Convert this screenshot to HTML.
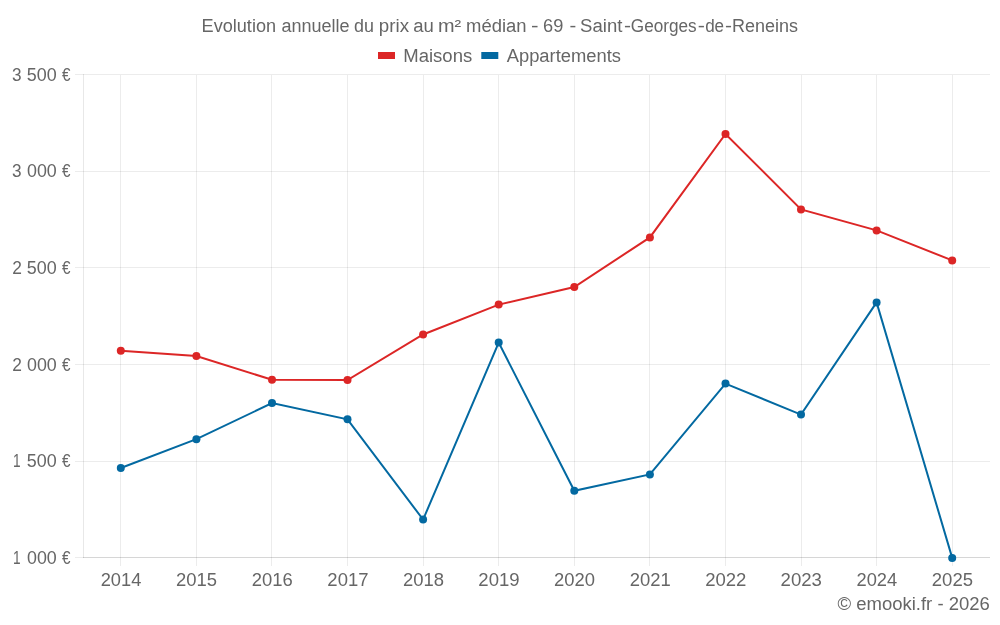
<!DOCTYPE html>
<html lang="fr"><head><meta charset="utf-8"><title>Evolution annuelle du prix au m² médian</title>
<style>html,body{margin:0;padding:0;background:#fff;}body{width:1000px;height:625px;overflow:hidden;}svg{display:block;}text{font-family:"Liberation Sans",sans-serif;font-size:18px;fill:#666666;}</style>
</head><body>
<svg width="1000" height="625" viewBox="0 0 1000 625">
<rect width="1000" height="625" fill="#ffffff"/>
<g shape-rendering="crispEdges" stroke="#000000" stroke-opacity="0.075" stroke-width="1">
<line x1="75" x2="990" y1="74.5" y2="74.5"/>
<line x1="75" x2="990" y1="171.5" y2="171.5"/>
<line x1="75" x2="990" y1="267.5" y2="267.5"/>
<line x1="75" x2="990" y1="364.5" y2="364.5"/>
<line x1="75" x2="990" y1="461.5" y2="461.5"/>
<line x1="75" x2="990" y1="557.5" y2="557.5"/>
<line x1="120.5" x2="120.5" y1="75" y2="566"/>
<line x1="196.5" x2="196.5" y1="75" y2="566"/>
<line x1="271.5" x2="271.5" y1="75" y2="566"/>
<line x1="347.5" x2="347.5" y1="75" y2="566"/>
<line x1="423.5" x2="423.5" y1="75" y2="566"/>
<line x1="498.5" x2="498.5" y1="75" y2="566"/>
<line x1="574.5" x2="574.5" y1="75" y2="566"/>
<line x1="649.5" x2="649.5" y1="75" y2="566"/>
<line x1="725.5" x2="725.5" y1="75" y2="566"/>
<line x1="801.5" x2="801.5" y1="75" y2="566"/>
<line x1="876.5" x2="876.5" y1="75" y2="566"/>
<line x1="952.5" x2="952.5" y1="75" y2="566"/>
</g>
<g shape-rendering="crispEdges" stroke="#000000" stroke-opacity="0.09" stroke-width="1">
<line x1="83.5" x2="83.5" y1="74" y2="558"/>
<line x1="83" x2="990" y1="557.5" y2="557.5"/>
</g>
<polyline points="120.8,468.0 196.4,439.2 272.0,403.1 347.5,419.3 423.1,519.6 498.7,342.6 574.3,490.8 649.9,474.4 725.5,383.6 801.0,414.6 876.6,302.4 952.2,557.9" fill="none" stroke="#0369a1" stroke-width="2" stroke-linejoin="miter"/>
<circle cx="120.8" cy="468.0" r="4" fill="#0369a1"/>
<circle cx="196.4" cy="439.2" r="4" fill="#0369a1"/>
<circle cx="272.0" cy="403.1" r="4" fill="#0369a1"/>
<circle cx="347.5" cy="419.3" r="4" fill="#0369a1"/>
<circle cx="423.1" cy="519.6" r="4" fill="#0369a1"/>
<circle cx="498.7" cy="342.6" r="4" fill="#0369a1"/>
<circle cx="574.3" cy="490.8" r="4" fill="#0369a1"/>
<circle cx="649.9" cy="474.4" r="4" fill="#0369a1"/>
<circle cx="725.5" cy="383.6" r="4" fill="#0369a1"/>
<circle cx="801.0" cy="414.6" r="4" fill="#0369a1"/>
<circle cx="876.6" cy="302.4" r="4" fill="#0369a1"/>
<circle cx="952.2" cy="557.9" r="4" fill="#0369a1"/>
<polyline points="120.8,350.8 196.4,356.0 272.0,379.8 347.5,380.0 423.1,334.5 498.7,304.6 574.3,287.0 649.9,237.4 725.5,134.0 801.0,209.4 876.6,230.4 952.2,260.4" fill="none" stroke="#dc2626" stroke-width="2" stroke-linejoin="miter"/>
<circle cx="120.8" cy="350.8" r="4" fill="#dc2626"/>
<circle cx="196.4" cy="356.0" r="4" fill="#dc2626"/>
<circle cx="272.0" cy="379.8" r="4" fill="#dc2626"/>
<circle cx="347.5" cy="380.0" r="4" fill="#dc2626"/>
<circle cx="423.1" cy="334.5" r="4" fill="#dc2626"/>
<circle cx="498.7" cy="304.6" r="4" fill="#dc2626"/>
<circle cx="574.3" cy="287.0" r="4" fill="#dc2626"/>
<circle cx="649.9" cy="237.4" r="4" fill="#dc2626"/>
<circle cx="725.5" cy="134.0" r="4" fill="#dc2626"/>
<circle cx="801.0" cy="209.4" r="4" fill="#dc2626"/>
<circle cx="876.6" cy="230.4" r="4" fill="#dc2626"/>
<circle cx="952.2" cy="260.4" r="4" fill="#dc2626"/>
<rect x="378" y="52" width="17" height="7" fill="#dc2626"/>
<rect x="481.3" y="52" width="17" height="7" fill="#0369a1"/>
<g style="will-change:opacity;filter:grayscale(1)">
<text y="31.6"><tspan x="201.56" textLength="74.54" lengthAdjust="spacingAndGlyphs">Evolution</tspan> <tspan x="281.38" textLength="68.06" lengthAdjust="spacingAndGlyphs">annuelle</tspan> <tspan x="353.99" textLength="19.91" lengthAdjust="spacingAndGlyphs">du</tspan> <tspan x="378.89" textLength="30.20" lengthAdjust="spacingAndGlyphs">prix</tspan> <tspan x="413.19" textLength="20.60" lengthAdjust="spacingAndGlyphs">au</tspan> <tspan x="437.90" textLength="23.19" lengthAdjust="spacingAndGlyphs">m²</tspan> <tspan x="466.13" textLength="60.47" lengthAdjust="spacingAndGlyphs">médian</tspan> <tspan x="531.11" textLength="7.54" lengthAdjust="spacingAndGlyphs">-</tspan> <tspan x="543.06" textLength="20.28" lengthAdjust="spacingAndGlyphs">69</tspan> <tspan x="569.56" textLength="6.77" lengthAdjust="spacingAndGlyphs">-</tspan> <tspan x="580.10" textLength="42.27" lengthAdjust="spacingAndGlyphs">Saint</tspan><tspan x="624.04" textLength="7.01" lengthAdjust="spacingAndGlyphs">-</tspan><tspan x="630.82" textLength="65.87" lengthAdjust="spacingAndGlyphs">Georges</tspan><tspan x="697.70" textLength="7.16" lengthAdjust="spacingAndGlyphs">-</tspan><tspan x="705.13" textLength="18.97" lengthAdjust="spacingAndGlyphs">de</tspan><tspan x="724.98" textLength="7.00" lengthAdjust="spacingAndGlyphs">-</tspan><tspan x="731.92" textLength="66.01" lengthAdjust="spacingAndGlyphs">Reneins</tspan>
</text>
<text y="61.5"><tspan x="403.24" textLength="68.96" lengthAdjust="spacingAndGlyphs">Maisons</tspan>
</text>
<text y="61.5"><tspan x="506.69" textLength="114.37" lengthAdjust="spacingAndGlyphs">Appartements</tspan>
</text>
<text y="81.0"><tspan x="11.92" textLength="9.56" lengthAdjust="spacingAndGlyphs">3</tspan> <tspan x="26.85" textLength="29.91" lengthAdjust="spacingAndGlyphs">500</tspan> <tspan x="61.90" textLength="8.47" lengthAdjust="spacingAndGlyphs">€</tspan>
</text>
<text y="177.0"><tspan x="11.92" textLength="9.56" lengthAdjust="spacingAndGlyphs">3</tspan> <tspan x="27.03" textLength="29.80" lengthAdjust="spacingAndGlyphs">000</tspan> <tspan x="61.90" textLength="8.47" lengthAdjust="spacingAndGlyphs">€</tspan>
</text>
<text y="274.0"><tspan x="12.14" textLength="9.66" lengthAdjust="spacingAndGlyphs">2</tspan> <tspan x="26.85" textLength="29.91" lengthAdjust="spacingAndGlyphs">500</tspan> <tspan x="61.90" textLength="8.47" lengthAdjust="spacingAndGlyphs">€</tspan>
</text>
<text y="371.0"><tspan x="12.14" textLength="9.66" lengthAdjust="spacingAndGlyphs">2</tspan> <tspan x="27.03" textLength="29.80" lengthAdjust="spacingAndGlyphs">000</tspan> <tspan x="61.90" textLength="8.47" lengthAdjust="spacingAndGlyphs">€</tspan>
</text>
<text y="467.0"><tspan x="13.04" textLength="7.59" lengthAdjust="spacingAndGlyphs">1</tspan> <tspan x="26.85" textLength="29.91" lengthAdjust="spacingAndGlyphs">500</tspan> <tspan x="61.90" textLength="8.47" lengthAdjust="spacingAndGlyphs">€</tspan>
</text>
<text y="564.0"><tspan x="13.04" textLength="7.59" lengthAdjust="spacingAndGlyphs">1</tspan> <tspan x="27.03" textLength="29.80" lengthAdjust="spacingAndGlyphs">000</tspan> <tspan x="61.90" textLength="8.47" lengthAdjust="spacingAndGlyphs">€</tspan>
</text>
<text y="585.6"><tspan x="100.68" textLength="40.65" lengthAdjust="spacingAndGlyphs">2014</tspan>
</text>
<text y="585.6"><tspan x="176.06" textLength="41.03" lengthAdjust="spacingAndGlyphs">2015</tspan>
</text>
<text y="585.6"><tspan x="251.70" textLength="40.98" lengthAdjust="spacingAndGlyphs">2016</tspan>
</text>
<text y="585.6"><tspan x="327.39" textLength="41.10" lengthAdjust="spacingAndGlyphs">2017</tspan>
</text>
<text y="585.6"><tspan x="402.92" textLength="41.03" lengthAdjust="spacingAndGlyphs">2018</tspan>
</text>
<text y="585.6"><tspan x="478.39" textLength="41.22" lengthAdjust="spacingAndGlyphs">2019</tspan>
</text>
<text y="585.6"><tspan x="554.00" textLength="40.95" lengthAdjust="spacingAndGlyphs">2020</tspan>
</text>
<text y="585.6"><tspan x="629.75" textLength="40.98" lengthAdjust="spacingAndGlyphs">2021</tspan>
</text>
<text y="585.6"><tspan x="705.19" textLength="41.24" lengthAdjust="spacingAndGlyphs">2022</tspan>
</text>
<text y="585.6"><tspan x="780.61" textLength="41.35" lengthAdjust="spacingAndGlyphs">2023</tspan>
</text>
<text y="585.6"><tspan x="856.51" textLength="40.68" lengthAdjust="spacingAndGlyphs">2024</tspan>
</text>
<text y="585.6"><tspan x="931.82" textLength="41.22" lengthAdjust="spacingAndGlyphs">2025</tspan>
</text>
<text y="610.2"><tspan x="837.47" textLength="152.33" lengthAdjust="spacingAndGlyphs">© emooki.fr - 2026</tspan>
</text>
</g>
</svg>
</body></html>
